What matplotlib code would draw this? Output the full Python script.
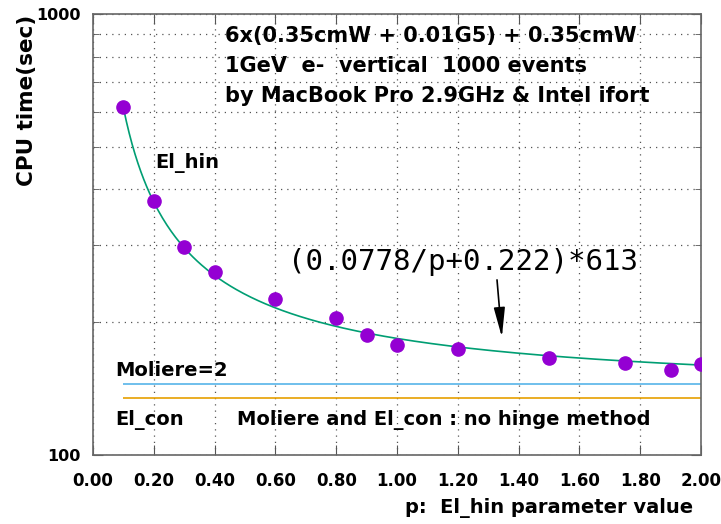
import numpy as np
import matplotlib.pyplot as plt
from matplotlib.ticker import FixedLocator, NullFormatter

# measured CPU time vs El_hin parameter p
p_values = [0.1, 0.2, 0.3, 0.4, 0.6, 0.8, 0.9, 1.0, 1.2, 1.5, 1.75, 1.9, 2.0]
cpu_time = [615, 377, 296, 260, 226, 204, 187, 178, 174, 166, 162, 156, 161]

# fit parameters: (a/p + b) * c
fit_a, fit_b, fit_c = 0.0778, 0.222, 613

moliere_time = 145
elcon_time = 134.7

x_ticks = [0.0, 0.2, 0.4, 0.6, 0.8, 1.0, 1.2, 1.4, 1.6, 1.8, 2.0]
x_ticklabels = ["0.00", "0.20", "0.40", "0.60", "0.80", "1.00",
                "1.20", "1.40", "1.60", "1.80", "2.00"]

plt.rcParams["font.family"] = "DejaVu Sans"
plt.rcParams["font.weight"] = "bold"

fig = plt.figure(figsize=(7.21, 5.24), dpi=100)
ax = fig.add_axes([93 / 721, 1 - 455 / 524, (701 - 93) / 721, (455 - 14) / 524])

ax.set_yscale("log")
ax.set_xlim(0, 2.0)
ax.set_ylim(100, 1000)

# fitted curve and measurements
pp = np.linspace(0.1, 2.0, 400)
ax.plot(pp, (fit_a / pp + fit_b) * fit_c, color="#009e73", lw=1.2, zorder=3)
ax.plot(p_values, cpu_time, "o", color="#9400d3", ms=9.5, zorder=4)

ax.hlines(moliere_time, 0.1, 2.0, color="#56b4e9", lw=1.2)
ax.hlines(elcon_time, 0.1, 2.0, color="#e69f00", lw=1.2)

# ticks and grid
ax.xaxis.set_major_locator(FixedLocator(x_ticks))
ax.set_xticklabels(x_ticklabels, fontsize=12, fontweight="bold")
ax.yaxis.set_major_locator(FixedLocator([100, 1000]))
ax.set_yticklabels(["100", "1000"], fontsize=11.5, fontweight="bold")
ax.yaxis.set_minor_locator(FixedLocator([200, 300, 400, 500, 600, 700, 800, 900]))
ax.yaxis.set_minor_formatter(NullFormatter())
ax.tick_params(which="both", direction="in", top=True, right=True, color="#555555")
ax.tick_params(which="major", length=7)
ax.tick_params(which="minor", length=4)
ax.tick_params(axis="x", pad=12)
ax.tick_params(axis="y", pad=9)
ax.grid(True, which="both", linestyle=(0, (1, 4)), color="#555555", lw=0.9)
for s in ax.spines.values():
    s.set_color("#666666")
    s.set_linewidth(1.2)

ax.set_xlabel("p:  El_hin parameter value", fontsize=14, fontweight="bold")
ax.xaxis.set_label_coords(0.987, -0.098)
ax.xaxis.label.set_horizontalalignment("right")
ax.set_ylabel("CPU time(sec)", fontsize=15.5, fontweight="bold")
ax.yaxis.set_label_coords(-0.092, 0.805)

# text labels
title_lines = ["6x(0.35cmW + 0.01G5) + 0.35cmW",
               "1GeV  e-  vertical  1000 events",
               "by MacBook Pro 2.9GHz & Intel ifort"]
for i, line in enumerate(title_lines):
    ax.text(0.217, 0.95 - i * 0.068, line, transform=ax.transAxes,
            fontsize=15, fontweight="bold", va="center", ha="left")

ax.text(0.205, 459, "El_hin", fontsize=14, fontweight="bold", va="center")
ax.text(0.072, 155.8, "Moliere=2", fontsize=14, fontweight="bold", va="center")
ax.text(0.072, 120, "El_con", fontsize=14, fontweight="bold", va="center")
ax.text(0.474, 120, "Moliere and El_con : no hinge method", fontsize=14,
        fontweight="bold", va="center")

ax.text(0.64, 274, f"({fit_a}/p+{fit_b})*{fit_c}", fontsize=21,
        family="DejaVu Sans Mono", fontweight="normal", va="center", ha="left")
ax.annotate("", xy=(1.345, 185), xytext=(1.329, 249.5),
            arrowprops=dict(arrowstyle="-|>,head_length=0.9,head_width=0.17",
                            color="black", lw=1.2,
                            mutation_scale=20, shrinkA=0, shrinkB=0))

fig.savefig("out.png", dpi=100)
